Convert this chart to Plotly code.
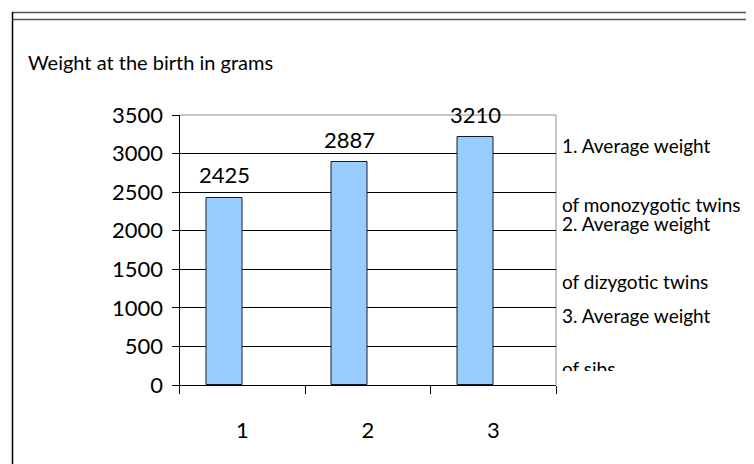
import plotly.graph_objects as go

categories = ["1", "2", "3"]
weights = [2425, 2887, 3210]
y_ticks = [0, 500, 1000, 1500, 2000, 2500, 3000, 3500]
title_text = "Weight at the birth in grams"
legend_lines = [
    "1. Average weight",
    "of monozygotic twins",
    "2. Average weight",
    "of dizygotic twins",
    "3. Average weight",
]
legend_last = "of sibs"

# page is 754x464 but the html body has an 8px margin
OFF = 8
W, H = 754 - OFF, 464 - OFF
FONT = "Lato, Carlito, 'Open Sans', sans-serif"


def px_x(p):
    return (p - OFF) / W


def px_y(p):
    return 1 - (p - OFF) / H


x_dom = [px_x(179.5), px_x(556)]
y_dom = [px_y(385), px_y(115)]

bar_w = 1 / 3.5

fig = go.Figure()
fig.add_trace(go.Bar(
    x=categories, y=weights,
    width=bar_w, offset=-bar_w,
    marker=dict(color="#99CCFF", line=dict(color="#1a1a2e", width=1)),
    showlegend=False, hoverinfo="skip",
))

# clipped last legend line
fig.add_trace(go.Scatter(
    x=[0], y=[0], mode="text", text=[legend_last],
    textposition="middle right",
    textfont=dict(family=FONT, size=19, color="black"),
    xaxis="x2", yaxis="y2", cliponaxis=True,
    showlegend=False, hoverinfo="skip",
))

annotations = []
for i, v in enumerate(weights):
    annotations.append(dict(
        x=i - bar_w / 2, y=v, xref="x", yref="y",
        text=str(v), showarrow=False, yanchor="middle", yshift=23,
        font=dict(family=FONT, size=22, color="black"),
    ))

annotations.append(dict(
    x=px_x(28), y=px_y(62), xref="paper", yref="paper",
    text=title_text, showarrow=False, xanchor="left", yanchor="middle",
    xshift=-2,
    font=dict(family=FONT, size=20, color="black"),
))

legend_y = [145, 204, 224, 281, 315]
for t, yy in zip(legend_lines, legend_y):
    annotations.append(dict(
        x=px_x(560), y=px_y(yy), xref="paper", yref="paper",
        text=t, showarrow=False, xanchor="left", yanchor="middle",
        font=dict(family=FONT, size=19, color="black"),
    ))

shapes = [
    # outer frame: double top line and left line
    dict(type="line", xref="paper", yref="paper", x0=px_x(12), x1=1.02,
         y0=px_y(12.5), y1=px_y(12.5), line=dict(color="#555555", width=1.5)),
    dict(type="line", xref="paper", yref="paper", x0=px_x(12), x1=1.02,
         y0=px_y(19.5), y1=px_y(19.5), line=dict(color="#555555", width=1.5)),
    dict(type="line", xref="paper", yref="paper", x0=px_x(12.5), x1=px_x(12.5),
         y0=px_y(12), y1=-0.02, line=dict(color="black", width=1.5)),
    # plot area border (gray) top and right
    dict(type="line", xref="paper", yref="paper", x0=x_dom[0], x1=x_dom[1],
         y0=y_dom[1], y1=y_dom[1], line=dict(color="#909090", width=1), layer="between"),
    dict(type="line", xref="paper", yref="paper", x0=x_dom[1], x1=x_dom[1],
         y0=y_dom[0], y1=y_dom[1], line=dict(color="#909090", width=1), layer="between"),
]

fig.update_layout(
    width=W, height=H,
    margin=dict(l=0, r=0, t=0, b=0, pad=0, autoexpand=False),
    paper_bgcolor="white", plot_bgcolor="white",
    font=dict(family=FONT, color="black"),
    showlegend=False,
    bargap=0, bargroupgap=0,
    xaxis=dict(
        type="category", domain=x_dom, range=[-0.5, 2.5],
        showgrid=False, showline=True, linecolor="black", linewidth=1,
        ticks="outside", ticklen=8, tickcolor="black", tickson="boundaries",
        tickfont=dict(family=FONT, size=22, color="black"),
        ticklabelstandoff=26, zeroline=False, fixedrange=True, automargin=False,
    ),
    yaxis=dict(
        domain=y_dom, range=[0, 3500], tickvals=y_ticks,
        showgrid=True, gridcolor="black", gridwidth=1,
        showline=True, linecolor="black", linewidth=1,
        ticks="outside", ticklen=7, tickcolor="black",
        tickfont=dict(family=FONT, size=22, color="black"),
        ticklabelstandoff=4, zeroline=False, fixedrange=True, automargin=False,
    ),
    xaxis2=dict(domain=[px_x(562), 1], range=[0, 1], visible=False,
                anchor="y2", fixedrange=True),
    yaxis2=dict(domain=[px_y(371), px_y(330)], range=[0, 1], visible=False,
                anchor="x2", fixedrange=True),
    annotations=annotations,
    shapes=shapes,
)

fig.write_html("out.html")
